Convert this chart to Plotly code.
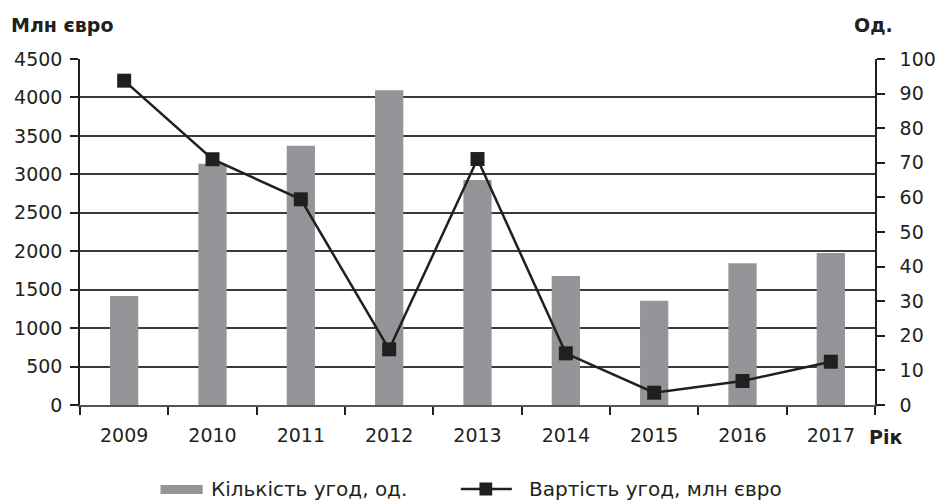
import plotly.graph_objects as go

years = ["2009", "2010", "2011", "2012", "2013", "2014", "2015", "2016", "2017"]
deal_count = [31.5, 69.7, 74.9, 91.0, 65.0, 37.3, 30.1, 41.0, 43.9]          # Од. (right axis)
deal_value = [4218, 3196, 2675, 724, 3199, 672, 160, 312, 563]              # Млн євро (left axis)
left_ticks = [0, 500, 1000, 1500, 2000, 2500, 3000, 3500, 4000, 4500]
right_ticks = [0, 10, 20, 30, 40, 50, 60, 70, 80, 90, 100]

INK = "#231f20"
GRAY = "#939598"
FONT = "DejaVu Sans"

W, H = 948, 502
PL, PR, PT, PB = 80, 890, 59, 405          # plot area in window pixels
L, T, R, B = PL, PT, W - PR, H - PB
pw, ph = PR - PL, PB - PT

def px(x):
    return (x - PL) / pw

def py(y):
    return (PB - y) / ph

fig = go.Figure()
fig.add_trace(go.Bar(x=years, y=deal_count, yaxis="y", marker=dict(color=GRAY, line=dict(width=0)),
                     width=0.32, name="Кількість угод, од.", showlegend=False))
fig.add_trace(go.Scatter(x=years, y=deal_value, yaxis="y2", mode="lines+markers",
                         line=dict(color=INK, width=2.5),
                         marker=dict(symbol="square", size=14, color=INK),
                         name="Вартість угод, млн євро", showlegend=False))

fig.update_layout(
    width=W, height=H, autosize=False,
    margin=dict(l=L, r=R, t=T, b=B, pad=0),
    paper_bgcolor="white", plot_bgcolor="white",
    font=dict(family=FONT, size=19, color=INK),
    xaxis=dict(type="category", tickson="boundaries", ticks="outside", ticklen=8, tickwidth=1.5,
               tickcolor=INK, showline=True, linecolor="#555555", linewidth=2, showgrid=False,
               tickfont=dict(size=19, color=INK), range=[-0.5, 8.5], ticklabelstandoff=12),
    yaxis=dict(range=[0, 100], tickvals=right_ticks, side="right",
               ticks="outside", ticklen=8, tickwidth=1.5, tickcolor=INK,
               showline=True, linecolor=INK, linewidth=1.5, showgrid=False, zeroline=False,
               tickfont=dict(size=19, color=INK), ticklabelstandoff=11),
    yaxis2=dict(range=[0, 4500], tickvals=left_ticks, side="left", overlaying="y",
                ticks="outside", ticklen=8, tickwidth=1.5,
                tickcolor=INK, showline=True, linecolor=INK, linewidth=1.5,
                showgrid=True, gridcolor="#3a3a3a", gridwidth=1.5, zeroline=False,
                tickfont=dict(size=19, color=INK), ticklabelstandoff=4),
    bargap=0.68,
)

ann = [
    dict(text="<b>Млн євро</b>", x=px(8), y=py(25), xanchor="left", yanchor="middle", font=dict(size=19)),
    dict(text="<b>Од.</b>", x=px(910), y=py(25), xanchor="right", yanchor="middle", font=dict(size=19)),
    dict(text="<b>Рік</b>", x=px(882), y=py(437), xanchor="left", yanchor="middle", font=dict(size=19)),
    dict(text="Кількість угод, од.", x=px(211), y=py(489), xanchor="left", yanchor="middle", font=dict(size=20)),
    dict(text="Вартість угод, млн євро", x=px(535), y=py(489), xanchor="left", yanchor="middle", font=dict(size=20)),
]
for a in ann:
    a.update(xref="paper", yref="paper", showarrow=False)
fig.update_layout(annotations=ann)

shapes = [
    dict(type="rect", x0=px(162), x1=px(205), y0=py(485), y1=py(494), fillcolor=GRAY, line=dict(width=0)),
    dict(type="line", x0=px(468), x1=px(520), y0=py(489), y1=py(489), line=dict(color=INK, width=2.5)),
    dict(type="rect", x0=px(487), x1=px(500), y0=py(482.5), y1=py(495.5), fillcolor=INK, line=dict(width=0)),
]
for s in shapes:
    s.update(xref="paper", yref="paper")
fig.update_layout(shapes=shapes)

fig.write_html(
    "out.html",
    config={"responsive": False, "displayModeBar": False},
    post_script="document.body.style.margin='0';document.body.style.overflow='hidden';",
)
